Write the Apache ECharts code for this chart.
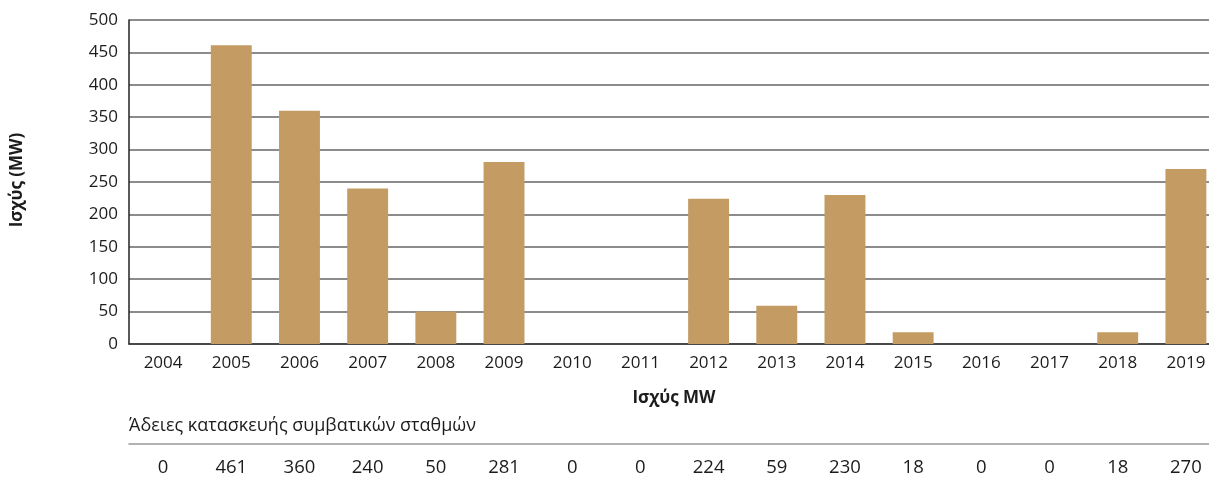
<!DOCTYPE html>
<html>
<head>
<meta charset="utf-8">
<script src="https://cdn.jsdelivr.net/npm/echarts@6/dist/echarts.min.js"></script>
<style>
html,body{margin:0;padding:0;background:#fff;overflow:hidden;}
#chart{width:1220px;height:480px;}
</style>
</head>
<body>
<div id="chart"></div>
<script>
const years = ['2004','2005','2006','2007','2008','2009','2010','2011','2012','2013','2014','2015','2016','2017','2018','2019'];
const capacityMW = [0, 461, 360, 240, 50, 281, 0, 0, 224, 59, 230, 18, 0, 0, 18, 270];
const yTicks = [0, 50, 100, 150, 200, 250, 300, 350, 400, 450, 500];
const yAxisTitle = 'Ισχύς (MW)';
const xAxisTitle = 'Ισχύς MW';
const tableTitle = 'Άδειες κατασκευής συμβατικών σταθμών';

const FONT = '"Open Sans", "Noto Sans", sans-serif';
const TXT = '#1c1c1c';

const chart = echarts.init(document.getElementById('chart'));
chart.setOption({
  animation: false,
  backgroundColor: '#fff',
  grid: { left: 129, top: 20, right: 0, height: 324, containLabel: false },
  xAxis: [
    {
      type: 'category',
      data: years,
      position: 'bottom',
      axisLine: { show: true, lineStyle: { color: '#333', width: 1.5 } },
      axisTick: { show: false },
      axisLabel: { color: TXT, fontFamily: FONT, fontSize: 17, margin: 11 },
      splitLine: { show: false }
    },
    {
      type: 'category',
      data: capacityMW.map(String),
      position: 'bottom',
      offset: 100,
      axisLine: { show: true, onZero: false, lineStyle: { color: '#999', width: 1.5 } },
      axisTick: { show: false },
      axisLabel: { color: TXT, fontFamily: FONT, fontSize: 18.5, margin: 14 },
      splitLine: { show: false }
    }
  ],
  yAxis: {
    type: 'value',
    min: yTicks[0],
    max: yTicks[yTicks.length - 1],
    interval: yTicks[1] - yTicks[0],
    axisLine: { show: true, lineStyle: { color: '#222', width: 1.5 } },
    axisTick: { show: false },
    axisLabel: { color: TXT, fontFamily: FONT, fontSize: 17, margin: 11 },
    splitLine: { show: true, lineStyle: { color: '#666', width: 1.5 } }
  },
  series: [{
    type: 'bar',
    data: capacityMW,
    xAxisIndex: 0,
    barWidth: '60%',
    itemStyle: { color: '#C49B63' },
    silent: true
  }],
  graphic: [
    {
      type: 'text',
      x: 17, y: 180,
      rotation: Math.PI / 2,
      style: {
        text: yAxisTitle, fontFamily: FONT, fontSize: 17, fontWeight: 'bold',
        fill: TXT, align: 'center', verticalAlign: 'middle'
      }
    },
    {
      type: 'text',
      x: 674, y: 398,
      style: {
        text: xAxisTitle, fontFamily: FONT, fontSize: 17, fontWeight: 'bold',
        fill: TXT, align: 'center', verticalAlign: 'middle'
      }
    },
    {
      type: 'text',
      x: 129, y: 426,
      style: {
        text: tableTitle, fontFamily: FONT, fontSize: 18,
        fill: TXT, align: 'left', verticalAlign: 'middle'
      }
    }
  ]
});
</script>
</body>
</html>
